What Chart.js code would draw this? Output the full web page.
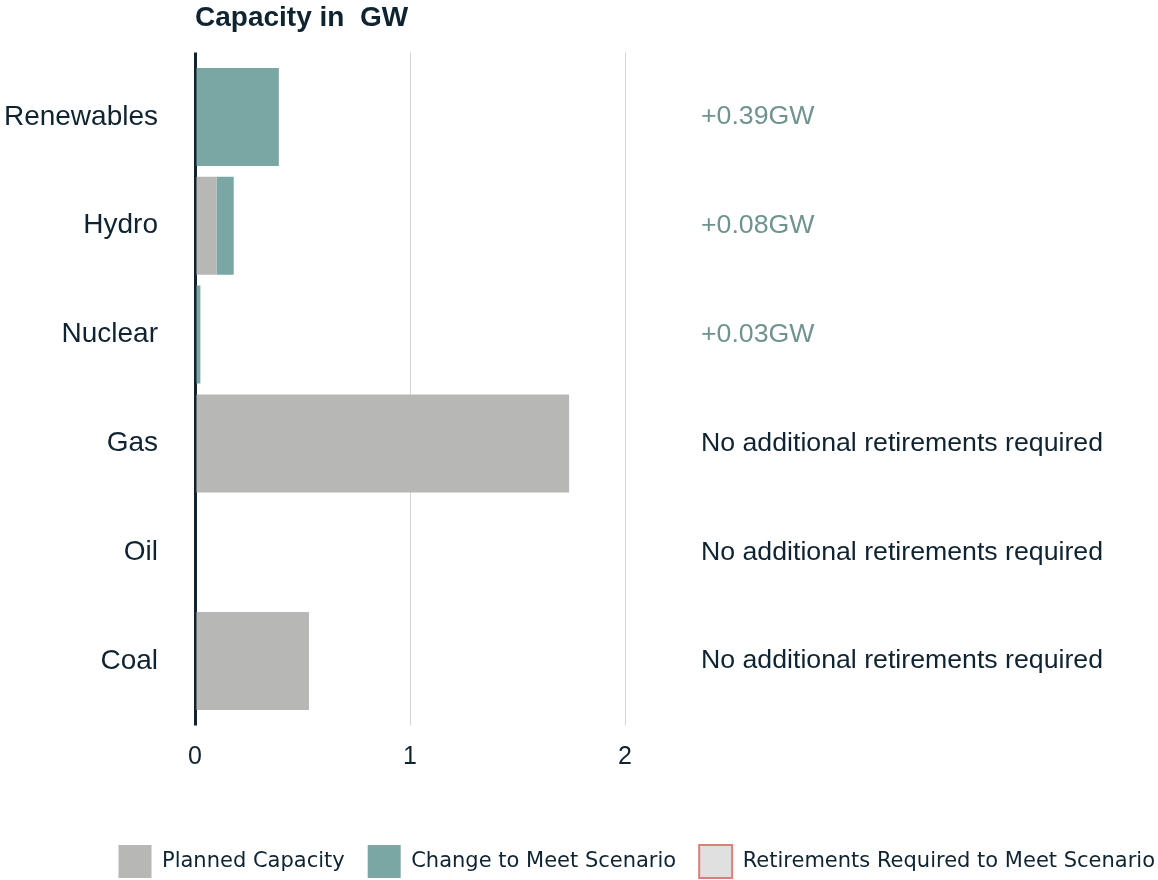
<!DOCTYPE html>
<html>
<head>
<meta charset="utf-8">
<script src="https://cdn.jsdelivr.net/npm/chart.js@4.4.1/dist/chart.umd.min.js"></script>
<style>
  html, body { margin: 0; padding: 0; background: #fff; }
  #wrap { width: 1158px; height: 880px; }
</style>
</head>
<body>
<div id="wrap"><canvas id="chart" width="1158" height="880"></canvas></div>
<script>
// values in GW
const categories = ["Renewables", "Hydro", "Nuclear", "Gas", "Oil", "Coal"];
const plannedCapacity = [0, 0.10, 0, 1.74, 0, 0.53];
const changeToMeet = [0.39, 0.08, 0.025, 0, 0, 0];
const retirementsRequired = [0, 0, 0, 0, 0, 0];
const notes = [
  "+0.39GW",
  "+0.08GW",
  "+0.03GW",
  "No additional retirements required",
  "No additional retirements required",
  "No additional retirements required"
];
const noteIsAddition = [true, true, true, false, false, false];
const xMin = 0;
const xMax = 2;
const xStep = 1;

const NAVY = "#0f2330";
const GRID = "#d0d5d5";
const GREY = "#b7b7b6";
const TEAL = "#7aa6a3";
const TEAL_TEXT = "#6f938f";
const ARIAL = "'Liberation Sans', Arial, sans-serif";

const gridColor = ctx => (ctx.tick && ctx.tick.value === 0 ? NAVY : GRID);
const gridWidth = ctx => (ctx.tick && ctx.tick.value === 0 ? 3 : 1);

// keep tick label padding from pushing the chart area around
function fixWidth(w) {
  return s => {
    s.width = w;
    s.paddingTop = 0;
    s.paddingBottom = 0;
  };
}

const ctx = document.getElementById("chart");

new Chart(ctx, {
  type: "bar",
  data: {
    labels: categories,
    datasets: [
      {
        label: "Planned Capacity",
        data: plannedCapacity,
        backgroundColor: GREY,
        borderWidth: 0
      },
      {
        label: "Change to Meet Scenario",
        data: changeToMeet,
        backgroundColor: TEAL,
        borderWidth: 0
      },
      {
        label: "Retirements Required to Meet Scenario",
        data: retirementsRequired,
        backgroundColor: "#e0e0e0",
        borderColor: "#d9807c",
        borderWidth: 2
      }
    ]
  },
  options: {
    indexAxis: "y",
    responsive: false,
    animation: false,
    devicePixelRatio: 1,
    barPercentage: 0.9,
    categoryPercentage: 1,
    layout: { padding: { top: 0, right: -20, bottom: -8, left: 0 } },
    scales: {
      y: {
        type: "category",
        stacked: true,
        position: "left",
        z: 1,
        grid: { display: false, drawTicks: false },
        border: { display: true, color: NAVY, width: 3 },
        ticks: { padding: 37, color: NAVY, font: { family: ARIAL, size: 28 } },
        afterFit: fixWidth(195)
      },
      y2: {
        type: "category",
        labels: notes,
        position: "right",
        offset: true,
        grid: { display: false, drawTicks: false },
        border: { display: false },
        ticks: {
          padding: 76,
          color: c => (noteIsAddition[c.index] ? TEAL_TEXT : NAVY),
          font: { family: ARIAL, size: 26.7 }
        },
        afterFit: fixWidth(553)
      },
      x: {
        type: "linear",
        stacked: true,
        position: "bottom",
        min: xMin,
        max: xMax,
        grid: { color: gridColor, lineWidth: gridWidth, drawTicks: true, tickLength: 10 },
        border: { display: false },
        ticks: { stepSize: xStep, padding: 17, color: NAVY, font: { family: ARIAL, size: 25 } },
        afterFit: s => { s.height = 106.5; }
      },
      x2: {
        type: "linear",
        position: "top",
        min: xMin,
        max: xMax,
        grid: { color: gridColor, lineWidth: gridWidth, drawOnChartArea: false, drawTicks: true, tickLength: 10 },
        border: { display: false },
        ticks: { stepSize: xStep, display: false },
        title: {
          display: true,
          text: "Capacity in  GW",
          align: "start",
          color: NAVY,
          padding: { top: 1, bottom: 0 },
          font: { family: ARIAL, size: 28, weight: "bold" }
        },
        afterFit: s => { s.height = 62.5; }
      }
    },
    plugins: {
      tooltip: { enabled: false },
      legend: {
        display: true,
        position: "bottom",
        align: "end",
        labels: {
          boxWidth: 33,
          boxHeight: 33,
          padding: 23,
          color: NAVY,
          font: { family: "'DejaVu Sans', Verdana, sans-serif", size: 21 }
        }
      }
    }
  }
});
</script>
</body>
</html>
